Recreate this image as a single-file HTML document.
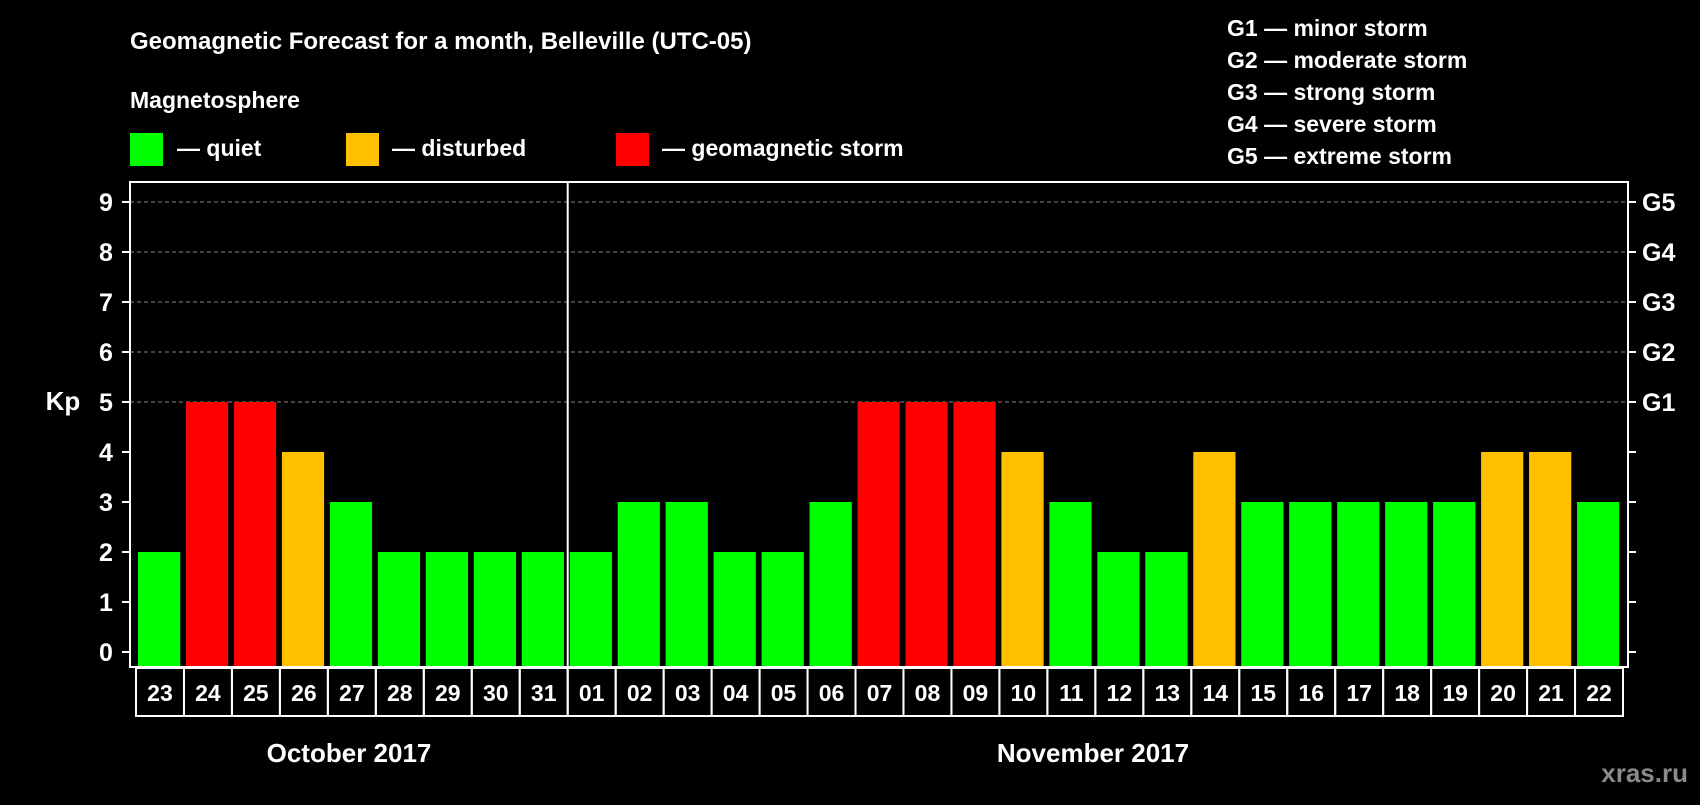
<!DOCTYPE html>
<html><head><meta charset="utf-8"><style>
body{margin:0;background:#000;width:1700px;height:800px;overflow:hidden;font-family:"Liberation Sans",Arial,sans-serif;font-weight:bold;color:#fff}
svg text{font-family:"Liberation Sans",Arial,sans-serif;font-weight:bold}
</style></head><body>
<svg id="c" width="1700" height="800">
<text x="130" y="49" font-size="24" fill="#fff">Geomagnetic Forecast for a month, Belleville (UTC-05)</text>
<text x="130" y="108" font-size="23" fill="#fff">Magnetosphere</text>
<g>
<rect x="130" y="133" width="33" height="33" fill="#00ff00"/>
<text x="177" y="156" font-size="23" fill="#fff">— quiet</text>
<rect x="346" y="133" width="33" height="33" fill="#ffc000"/>
<text x="392" y="156" font-size="23" fill="#fff">— disturbed</text>
<rect x="616" y="133" width="33" height="33" fill="#ff0000"/>
<text x="662" y="156" font-size="23" fill="#fff">— geomagnetic storm</text>
</g>
<g font-size="23" fill="#fff">
<text x="1227" y="36">G1 — minor storm</text>
<text x="1227" y="68">G2 — moderate storm</text>
<text x="1227" y="100">G3 — strong storm</text>
<text x="1227" y="132">G4 — severe storm</text>
<text x="1227" y="164">G5 — extreme storm</text>
</g>
<text x="63" y="410" font-size="26" fill="#fff" text-anchor="middle">Kp</text>
<text x="349" y="762" font-size="26" fill="#fff" text-anchor="middle">October 2017</text>
<text x="1093" y="762" font-size="26" fill="#fff" text-anchor="middle">November 2017</text>
<text x="1688" y="782" font-size="26" fill="#8a8a8a" text-anchor="end">xras.ru</text>
<g id="plot"></g>
</svg>
<script>
const days=["23","24","25","26","27","28","29","30","31","01","02","03","04","05","06","07","08","09","10","11","12","13","14","15","16","17","18","19","20","21","22"];
const kp=[2,5,5,4,3,2,2,2,2,2,3,3,2,2,3,5,5,5,4,3,2,2,4,3,3,3,3,3,4,4,3];
const yTicks=[0,1,2,3,4,5,6,7,8,9];
const gLabels=["","","","","","G1","G2","G3","G4","G5"];
const NS="http://www.w3.org/2000/svg";
const g=document.getElementById('plot');
const L=130,R=1628,T=182,B=667,cx0=136,cx1=1623;
const pitch=(cx1-cx0)/days.length;
const y=v=>652-v*50;
const x=i=>cx0+i*pitch;
function mk(t,a){const e=document.createElementNS(NS,t);for(const k in a)e.setAttribute(k,a[k]);g.appendChild(e);return e;}
yTicks.forEach((v,i)=>{
 if(v>=5){const l=mk('line',{x1:L,x2:R,y1:y(v),y2:y(v),stroke:'#888','stroke-dasharray':'4 3','stroke-width':1});
 
 }
 const t1=mk('line',{x1:L-8,x2:L,y1:y(v),y2:y(v),stroke:'#fff','stroke-width':2});
 
 
 const t2=mk('line',{x1:R,x2:R+8,y1:y(v),y2:y(v),stroke:'#fff','stroke-width':2});
 
 
 const tl=mk('text',{x:106,y:y(v)+9,'font-size':25,fill:'#fff','text-anchor':'middle'});tl.textContent=v;
 
 
 if(gLabels[i]){const gl=mk('text',{x:1642,y:y(v)+9,'font-size':25,fill:'#fff'});gl.textContent=gLabels[i];
 
 }
});
kp.forEach((v,i)=>{
 const c=v>=5?'#ff0000':v>=4?'#ffc000':'#00ff00';
 const b=mk('rect',{x:x(i)+2,y:y(v),width:pitch*0.88,height:y(0)-y(v)+14,fill:c});
 
 
 const cell=mk('rect',{x:x(i),y:668,width:pitch,height:48,fill:'none',stroke:'#fff','stroke-width':2});
 
 
 const t=mk('text',{x:x(i)+pitch/2,y:701,'font-size':23,fill:'#fff','text-anchor':'middle'});t.textContent=days[i];
 
 
});
const fr=mk('rect',{x:L,y:T,width:R-L,height:B-T,fill:'none',stroke:'#fff','stroke-width':2});


const dv=mk('line',{x1:x(9),x2:x(9),y1:T,y2:B,stroke:'#fff','stroke-width':2});


</script>
</body></html>
